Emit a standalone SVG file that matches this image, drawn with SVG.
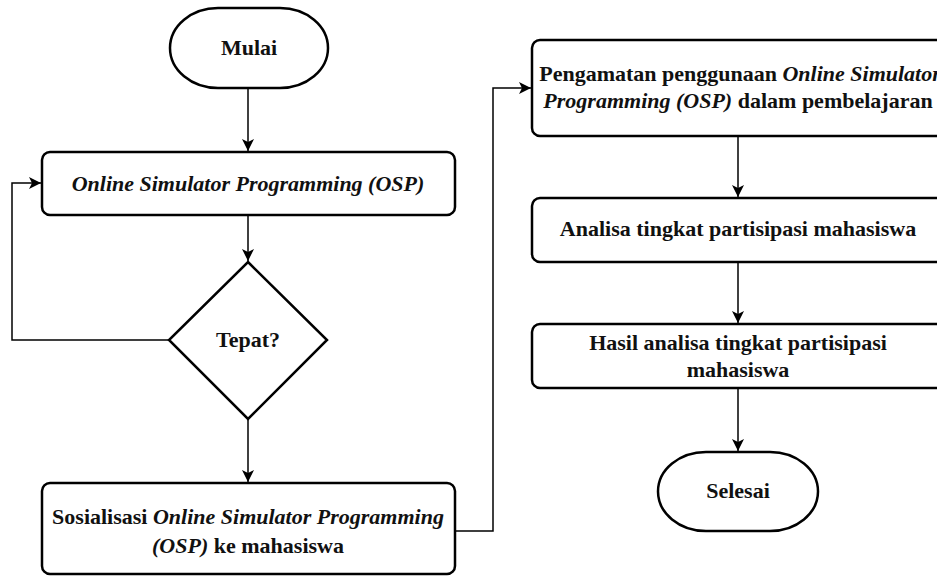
<svg xmlns="http://www.w3.org/2000/svg" width="937" height="577" viewBox="0 0 937 577">
<style>
.node{fill:#fff;stroke:#000;stroke-width:2.5}
.t{font-family:'Liberation Serif','Times New Roman',Times,'DejaVu Serif',serif;font-weight:700;font-size:22px;fill:#111;text-anchor:middle}
.i{font-style:italic}
.c{fill:none;stroke:#000;stroke-width:1.5}
</style>
<defs>
<marker id="ah" viewBox="0 0 12 12" refX="12" refY="6" markerWidth="12" markerHeight="12" markerUnits="userSpaceOnUse" orient="auto">
<path d="M0,0 L12,6 L0,12 L3,6 Z" fill="#000"/>
</marker>
</defs>
<g id="connectors">
<path class="c" d="M248,88 V151" marker-end="url(#ah)"/>
<path class="c" d="M248,215 V261" marker-end="url(#ah)"/>
<path class="c" d="M169,340 H12 V183 H41" marker-end="url(#ah)"/>
<path class="c" d="M248,419 V482" marker-end="url(#ah)"/>
<path class="c" d="M455,531 H493 V88 H531" marker-end="url(#ah)"/>
<path class="c" d="M738,136 V197" marker-end="url(#ah)"/>
<path class="c" d="M738,262 V323" marker-end="url(#ah)"/>
<path class="c" d="M738,388 V451" marker-end="url(#ah)"/>
</g>
<g id="mulai">
<rect class="node" x="170" y="8" width="158" height="80" rx="48" ry="40"/>
<text class="t" x="249" y="55" font-family="Liberation Serif, serif">Mulai</text>
</g>
<g id="osp">
<rect class="node" x="42" y="152" width="413" height="63" rx="8"/>
<text class="t i" x="248" y="191" font-family="Liberation Serif, serif">Online Simulator Programming (OSP)</text>
</g>
<g id="tepat">
<polygon class="node" points="248,262 327,340 248,419 169,340"/>
<text class="t" x="248" y="347" font-family="Liberation Serif, serif">Tepat?</text>
</g>
<g id="sosialisasi">
<rect class="node" x="42" y="483" width="413" height="91" rx="8"/>
<text class="t" x="248" y="524" font-family="Liberation Serif, serif">Sosialisasi <tspan class="i">Online Simulator Programming</tspan></text>
<text class="t" x="248" y="553" font-family="Liberation Serif, serif"><tspan class="i">(OSP)</tspan> ke mahasiswa</text>
</g>
<g id="pengamatan">
<rect class="node" x="532" y="40" width="412" height="96" rx="8"/>
<text class="t" x="740" y="81" font-family="Liberation Serif, serif">Pengamatan penggunaan <tspan class="i">Online Simulator</tspan></text>
<text class="t" x="738" y="108" font-family="Liberation Serif, serif"><tspan class="i">Programming (OSP)</tspan> dalam pembelajaran</text>
</g>
<g id="analisa">
<rect class="node" x="532" y="198" width="412" height="64" rx="8"/>
<text class="t" x="738" y="236" font-family="Liberation Serif, serif">Analisa tingkat partisipasi mahasiswa</text>
</g>
<g id="hasil">
<rect class="node" x="532" y="324" width="412" height="64" rx="8"/>
<text class="t" x="738" y="350" font-family="Liberation Serif, serif">Hasil analisa tingkat partisipasi</text>
<text class="t" x="738" y="377" font-family="Liberation Serif, serif">mahasiswa</text>
</g>
<g id="selesai">
<rect class="node" x="658" y="452" width="160" height="79" rx="48" ry="39.5"/>
<text class="t" x="738" y="498" font-family="Liberation Serif, serif">Selesai</text>
</g>
</svg>
